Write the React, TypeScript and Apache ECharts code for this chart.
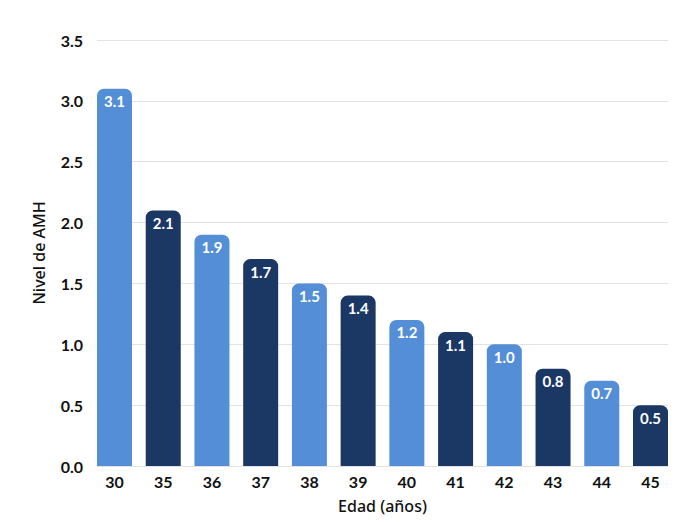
import React, { useEffect, useRef } from "react";
import * as echarts from "echarts";

const ages = ["30", "35", "36", "37", "38", "39", "40", "41", "42", "43", "44", "45"];
const amh = [3.1, 2.1, 1.9, 1.7, 1.5, 1.4, 1.2, 1.1, 1.0, 0.8, 0.7, 0.5];
const barColors = ["#548ed6", "#1b3764"];

export default function App() {
  const ref = useRef<HTMLDivElement>(null);
  useEffect(() => {
    const chart = echarts.init(ref.current!, null, { renderer: "svg" });
    const font = "Lato, 'Noto Sans', sans-serif";
    const nameFont = "'Noto Sans', Lato, sans-serif";
    const top = 32;
    const bottom = 51;
    const left = 89;
    const right = 24;
    const barW = 35;
    const plotW = 684 - left - right;
    const step = (plotW - barW) / (ages.length - 1);
    const half = (step - barW) / 2;
    chart.setOption({
      animation: false,
      grid: [
        { left, right, top, bottom, outerBoundsMode: "none", containLabel: false },
        { left: left - half, right: right - half, top, bottom, outerBoundsMode: "none", containLabel: false },
      ],
      xAxis: [
        { type: "value", gridIndex: 0, show: false, min: 0, max: 1 },
        {
          type: "category",
          gridIndex: 1,
          data: ages,
          name: "Edad (años)",
          nameLocation: "middle",
          nameGap: 32,
          nameTextStyle: { color: "#111", fontSize: 16, fontFamily: nameFont, fontWeight: 500 },
          axisLine: { show: false },
          axisTick: { show: false },
          axisLabel: { color: "#111", fontSize: 16, fontFamily: font, fontWeight: "bold", margin: 7 },
        },
      ],
      yAxis: [
        {
          type: "value",
          gridIndex: 0,
          min: 0,
          max: 3.5,
          interval: 0.5,
          name: "Nivel de AMH",
          nameLocation: "middle",
          nameGap: 50,
          nameTextStyle: { color: "#111", fontSize: 16, fontFamily: nameFont, fontWeight: 500 },
          axisLine: { show: false },
          axisTick: { show: false },
          splitLine: { lineStyle: { color: "#e3e3e3" } },
          axisLabel: {
            color: "#111",
            fontSize: 16,
            fontFamily: font,
            fontWeight: "bold",
            margin: 14,
            formatter: (v: number) => v.toFixed(1),
          },
        },
        { type: "value", gridIndex: 1, min: 0, max: 3.5, interval: 0.5, show: false, splitLine: { show: false } },
      ],
      series: [
        {
          type: "bar",
          xAxisIndex: 1,
          yAxisIndex: 1,
          barWidth: barW,
          data: amh.map((v, i) => ({
            value: v,
            itemStyle: { color: barColors[i % 2], borderRadius: [7, 7, 0, 0] },
          })),
          label: {
            show: true,
            position: "insideTop",
            distance: 5,
            color: "#fff",
            fontSize: 15,
            fontFamily: font,
            fontWeight: "bold",
            formatter: (p: any) => Number(p.value).toFixed(1),
          },
        },
      ],
    });
    return () => chart.dispose();
  }, []);
  return <div ref={ref} style={{ width: 684, height: 509 }} />;
}
